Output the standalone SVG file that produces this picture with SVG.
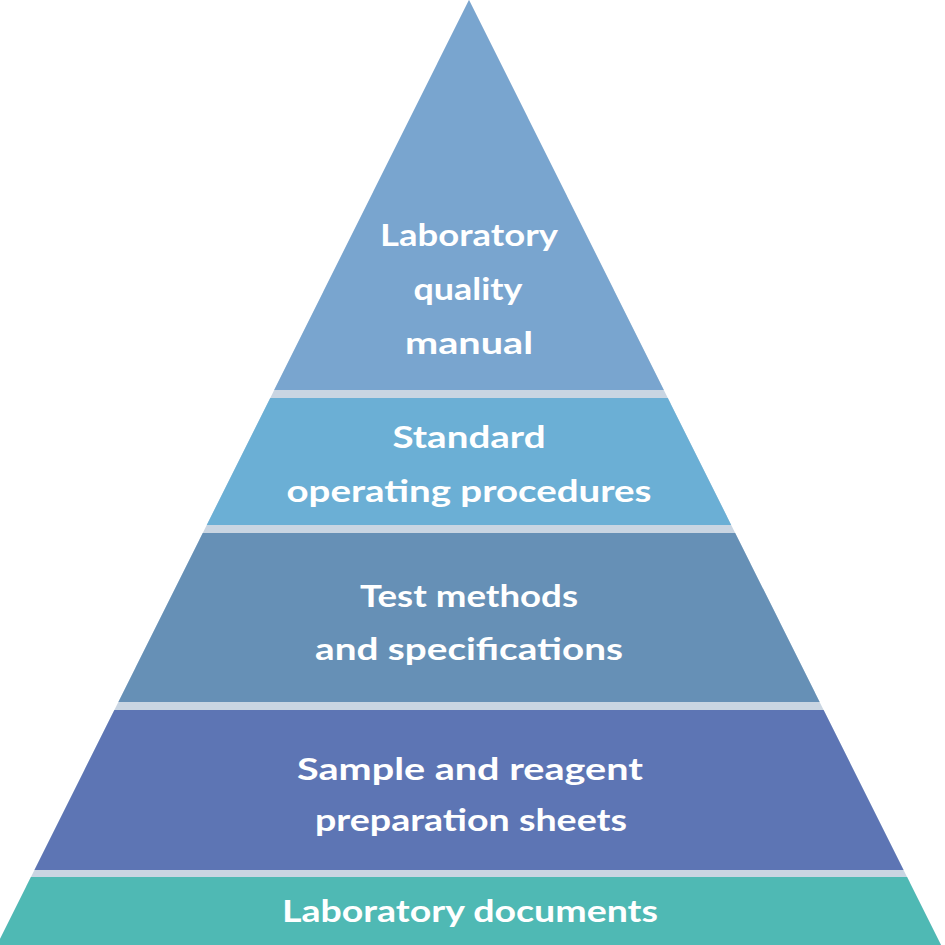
<svg xmlns="http://www.w3.org/2000/svg" width="945" height="945" viewBox="0 0 945 945">
<style>
.lbl{font-family:"Lato","Open Sans","Liberation Sans",sans-serif;font-weight:bold;font-size:31px;fill:#ffffff;text-anchor:middle}
</style>
<defs>
<clipPath id="pyr"><polygon points="469,0 -3,945 941,945"/></clipPath>
</defs>
<rect width="945" height="945" fill="#ffffff"/>
<g clip-path="url(#pyr)">
<rect x="0" y="0" width="945" height="945" fill="#c9d5e2"/>
<g id="layer1">
<rect x="0" y="0" width="945" height="390" fill="#79a5cf"/>
<text class="lbl" x="469" y="246" textLength="178" lengthAdjust="spacingAndGlyphs">Laboratory</text>
<text class="lbl" x="468" y="300" textLength="109" lengthAdjust="spacingAndGlyphs">quality</text>
<text class="lbl" x="469" y="354" textLength="128" lengthAdjust="spacingAndGlyphs">manual</text>
</g>
<g id="layer2">
<rect x="0" y="398" width="945" height="127" fill="#6bafd5"/>
<text class="lbl" x="469" y="448" textLength="153" lengthAdjust="spacingAndGlyphs">Standard</text>
<text class="lbl" x="469" y="502" textLength="365" lengthAdjust="spacingAndGlyphs">operating procedures</text>
</g>
<g id="layer3">
<rect x="0" y="533" width="945" height="169" fill="#6690b6"/>
<text class="lbl" x="469" y="607" textLength="218" lengthAdjust="spacingAndGlyphs">Test methods</text>
<text class="lbl" x="469" y="660" textLength="308" lengthAdjust="spacingAndGlyphs">and specifications</text>
</g>
<g id="layer4">
<rect x="0" y="710" width="945" height="160" fill="#5d75b4"/>
<text class="lbl" x="470" y="780" textLength="346" lengthAdjust="spacingAndGlyphs">Sample and reagent</text>
<text class="lbl" x="471" y="831" textLength="312" lengthAdjust="spacingAndGlyphs">preparation sheets</text>
</g>
<g id="layer5">
<rect x="0" y="877" width="945" height="68" fill="#4fb9b4"/>
<text class="lbl" x="470" y="922" textLength="376" lengthAdjust="spacingAndGlyphs">Laboratory documents</text>
</g>
</g>
</svg>
